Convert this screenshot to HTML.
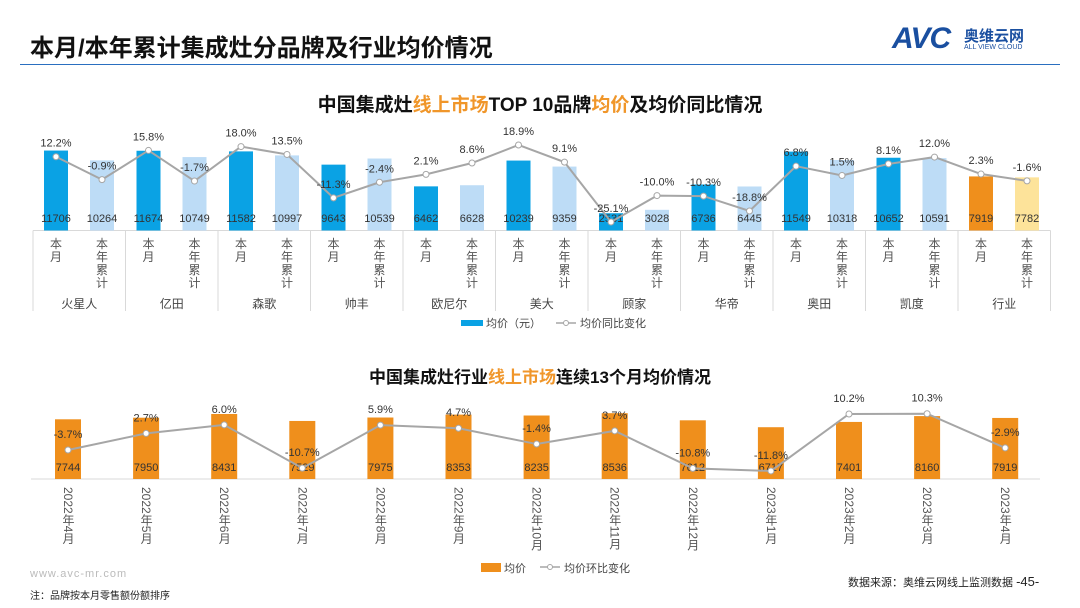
<!DOCTYPE html>
<html><head><meta charset="utf-8">
<style>
body{margin:0;width:1080px;height:608px;background:#fff;overflow:hidden;font-family:"Liberation Sans","Noto Sans CJK SC",sans-serif;position:relative}
.abs{position:absolute}
</style></head><body>
<div class="abs" style="left:30px;top:28px;font-size:24px;font-weight:bold;color:#111">本月/本年累计集成灶分品牌及行业均价情况</div>
<div class="abs" style="left:892px;top:22px;width:160px;height:36px">
  <span style="position:absolute;left:0;top:0;font-size:30px;font-weight:bold;font-style:italic;color:#1a4fa0;letter-spacing:-1px">AVC</span>
  <span style="position:absolute;left:72px;top:3px;font-size:15px;font-weight:bold;color:#1a4fa0">奥维云网</span>
  <span style="position:absolute;left:72px;top:22px;font-size:7px;color:#1a4fa0">ALL VIEW CLOUD</span>
</div>
<div class="abs" style="left:20px;top:64px;width:1040px;height:1px;background:#2a6fc0"></div>
<div class="abs" style="left:0;width:1080px;top:90px;text-align:center;font-size:19px;font-weight:bold;color:#111">中国集成灶<span style="color:#f0962a">线上市场</span>TOP 10品牌<span style="color:#f0962a">均价</span>及均价同比情况</div>
<div class="abs" style="left:0;width:1080px;top:363px;text-align:center;font-size:17px;font-weight:bold;color:#111">中国集成灶行业<span style="color:#f0962a">线上市场</span>连续13个月均价情况</div>
<svg id="c" class="abs" style="left:0;top:0" width="1080" height="608"></svg>
<div class="abs" style="left:30px;top:568px;font-size:11px;color:#bbb;letter-spacing:1px">www.avc-mr.com</div>
<div class="abs" style="left:30px;top:587px;font-size:10px;color:#222">注：品牌按本月零售额份额排序</div>
<div class="abs" style="left:848px;top:574px;font-size:11px;color:#222">数据来源：奥维云网线上监测数据 <span style="font-size:13px">-45-</span></div>
<script>
const brands=["火星人","亿田","森歌","帅丰","欧尼尔","美大","顾家","华帝","奥田","凯度","行业"];
const monthVals=[11706,11674,11582,9643,6462,10239,2531,6736,11549,10652,7919];
const ytdVals=[10264,10749,10997,10539,6628,9359,3028,6445,10318,10591,7782];
const monthYoY=[12.2,15.8,18.0,-11.3,2.1,18.9,-25.1,-10.3,6.8,8.1,2.3];
const ytdYoY=[-0.9,-1.7,13.5,-2.4,8.6,9.1,-10.0,-18.8,1.5,12.0,-1.6];
const months=["2022年4月","2022年5月","2022年6月","2022年7月","2022年8月","2022年9月","2022年10月","2022年11月","2022年12月","2023年1月","2023年2月","2023年3月","2023年4月"];
const avgPrice=[7744,7950,8431,7529,7975,8353,8235,8536,7612,6717,7401,8160,7919];
const momChange=[-3.7,2.7,6.0,-10.7,5.9,4.7,-1.4,3.7,-10.8,-11.8,10.2,10.3,-2.9];

const svg=document.getElementById('c');const NS="http://www.w3.org/2000/svg";
function mk(t,a,txt){const e=document.createElementNS(NS,t);for(const k in a)e.setAttribute(k,a[k]);if(txt!==undefined)e.textContent=txt;svg.appendChild(e);return e;}
// top chart scales
const X0=33,GW=92.5,BASE=230.5;
const yT=v=>BASE-v*0.00683;
const pT=p=>145+(18.9-p)*1.75;
const F='"Liberation Sans","Noto Sans CJK SC",sans-serif';
let l=mk('line',{x1:X0,x2:X0+GW*11,y1:BASE,y2:BASE,stroke:'#d9d9d9'});

const pts=[];
brands.forEach((b,i)=>{
  const gx=X0+i*GW;
  let s=mk('line',{x1:gx,x2:gx,y1:BASE,y2:311,stroke:'#d9d9d9'});
  
  if(i==brands.length-1){let s2=mk('line',{x1:gx+GW,x2:gx+GW,y1:BASE,y2:311,stroke:'#d9d9d9'});}
  const ind=i==brands.length-1;
  [[monthVals[i],ind?'#ef8f1c':'#0aa2e4',23,monthYoY[i],"本月"],[ytdVals[i],ind?'#fde39a':'#bddcf6',69,ytdYoY[i],"本年累计"]].forEach(([v,c,off,p,lab],j)=>{
    const cx=gx+off;
    let r=mk('rect',{x:cx-12,y:yT(v),width:24,height:BASE-yT(v),fill:c});
    
    let t=mk('text',{x:cx,y:222,'text-anchor':'middle','font-size':11,fill:'#333','font-family':F},v);
    
    pts.push([cx,pT(p),p]);
    [...lab].forEach((ch,k)=>{let tt=mk('text',{x:cx,y:248+k*13,'text-anchor':'middle','font-size':12,fill:'#555','font-family':F},ch);
      });
  });
  let bn=mk('text',{x:gx+GW/2,y:308,'text-anchor':'middle','font-size':12,fill:'#444','font-family':F},b);
  
});
let pl=mk('polyline',{points:pts.map(p=>p[0]+','+p[1]).join(' '),fill:'none',stroke:'#a6a6a6','stroke-width':2});

pts.forEach(p=>{let c=mk('circle',{cx:p[0],cy:p[1],r:3,fill:'#fff',stroke:'#a6a6a6'});
  let t=mk('text',{x:p[0],y:p[1]-10,'text-anchor':'middle','font-size':11,fill:'#333','font-family':F},p[2].toFixed(1)+'%');});
// top legend
let lg1=mk('rect',{x:461,y:320,width:22,height:6,fill:'#0aa2e4'});
let lt1=mk('text',{x:486,y:327,'font-size':11,fill:'#444','font-family':F},'均价（元）');
let lg2=mk('line',{x1:556,x2:576,y1:323,y2:323,stroke:'#a6a6a6','stroke-width':1.5});
mk('circle',{cx:566,cy:323,r:2.5,fill:'#fff',stroke:'#a6a6a6'});
let lt2=mk('text',{x:580,y:327,'font-size':11,fill:'#444','font-family':F},'均价同比变化');

// bottom chart
const B2=479,bx=i=>68+i*78.1;const yB=v=>B2-v*0.00771;const pB=p=>414+(10.2-p)*2.59;
let ax=mk('line',{x1:31,x2:1040,y1:B2,y2:B2,stroke:'#d9d9d9'});
const p2=[];
months.forEach((m,i)=>{
  const cx=bx(i),v=avgPrice[i];
  let r=mk('rect',{x:cx-13,y:yB(v),width:26,height:B2-yB(v),fill:'#ef8f1c'});
  let t=mk('text',{x:cx,y:471,'text-anchor':'middle','font-size':11,fill:'#333','font-family':F},v);
  p2.push([cx,pB(momChange[i]),momChange[i]]);
  let ml=mk('text',{x:cx,y:487,'font-size':12,fill:'#555','font-family':F,style:'writing-mode:vertical-rl;text-orientation:mixed'},m);
  
});
let pl2=mk('polyline',{points:p2.map(p=>p[0]+','+p[1]).join(' '),fill:'none',stroke:'#a6a6a6','stroke-width':2});

p2.forEach(p=>{let c=mk('circle',{cx:p[0],cy:p[1],r:3,fill:'#fff',stroke:'#a6a6a6'});
  let t=mk('text',{x:p[0],y:p[1]-12,'text-anchor':'middle','font-size':11,fill:'#333','font-family':F},p[2].toFixed(1)+'%');});
let g1=mk('rect',{x:481,y:563,width:20,height:9,fill:'#ef8f1c'});
let g1t=mk('text',{x:504,y:572,'font-size':11,fill:'#444','font-family':F},'均价');
let g2=mk('line',{x1:540,x2:560,y1:567,y2:567,stroke:'#a6a6a6','stroke-width':1.5});
mk('circle',{cx:550,cy:567,r:2.5,fill:'#fff',stroke:'#a6a6a6'});
let g2t=mk('text',{x:564,y:572,'font-size':11,fill:'#444','font-family':F},'均价环比变化');
</script>
</body></html>
